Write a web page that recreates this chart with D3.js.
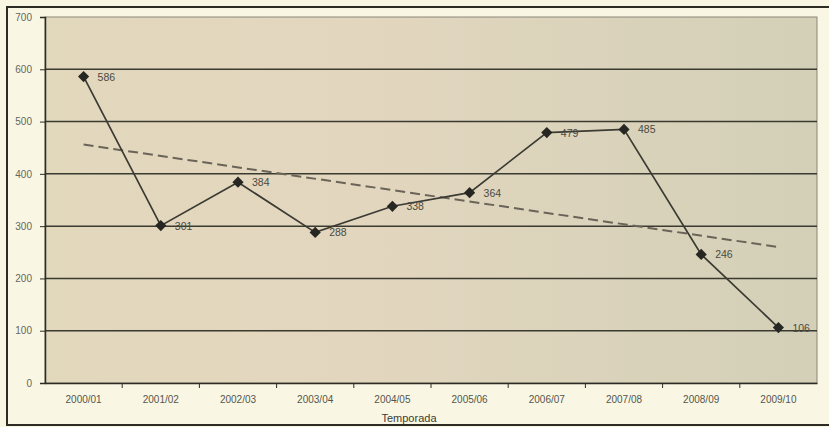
<!DOCTYPE html>
<html>
<head>
<meta charset="utf-8">
<script src="https://cdn.jsdelivr.net/npm/d3@7"></script>
<style>
  body { margin: 0; background: #f9f7e4; }
  svg { display: block; font-family: Arial, "Liberation Sans", sans-serif; }
</style>
</head>
<body>
<script>
// seasons on the x axis
var seasons = ['2000/01', '2001/02', '2002/03', '2003/04', '2004/05',
               '2005/06', '2006/07', '2007/08', '2008/09', '2009/10'];
// values per season
var values = [586, 301, 384, 288, 338, 364, 479, 485, 246, 106];
// y tick labels
var yTicks = [0, 100, 200, 300, 400, 500, 600, 700];
// dashed trend line, first and last season
var trendValues = [456, 260];

var width = 829, height = 427,
    margin = { top: 17, right: 12, bottom: 44, left: 45 };

var svg = d3.select('body').append('svg')
    .attr('width', width)
    .attr('height', height);

// outer frame (top, left, bottom only)
svg.append('path')
    .attr('d', 'M829,7 H7 V425 H829')
    .attr('fill', 'none')
    .attr('stroke', '#2c2c24')
    .attr('stroke-width', 2);

var x = d3.scaleBand()
    .domain(seasons)
    .range([margin.left, width - margin.right]);

var y = d3.scaleLinear()
    .domain([0, 700])
    .range([height - margin.bottom, margin.top]);

// plot background, warmer on the left, greyer on the right
var grad = svg.append('defs').append('linearGradient')
    .attr('id', 'bg')
    .attr('x1', 0).attr('x2', 1).attr('y1', 0).attr('y2', 0);
grad.append('stop').attr('offset', '0%').attr('stop-color', '#e2d8bc');
grad.append('stop').attr('offset', '40%').attr('stop-color', '#e3d6bf');
grad.append('stop').attr('offset', '100%').attr('stop-color', '#d3d0b7');

svg.append('rect')
    .attr('x', margin.left)
    .attr('y', margin.top)
    .attr('width', width - margin.right - margin.left)
    .attr('height', y(0) - margin.top)
    .attr('fill', 'url(#bg)')
    .attr('stroke', '#8a8676')
    .attr('stroke-width', 1);

// gridlines
svg.append('g')
  .selectAll('line')
  .data(yTicks.slice(1, -1))
  .join('line')
    .attr('x1', margin.left)
    .attr('x2', width - margin.right)
    .attr('y1', function(d) { return y(d); })
    .attr('y2', function(d) { return y(d); })
    .attr('stroke', '#3a3a30')
    .attr('stroke-width', 1.5);

// y axis
var yAxis = svg.append('g')
    .attr('transform', 'translate(' + margin.left + ',0)')
    .call(d3.axisLeft(y).tickValues(yTicks).tickSize(5).tickPadding(8));
yAxis.select('.domain').attr('stroke', '#2c2c24').attr('stroke-width', 1.5);
yAxis.selectAll('line').attr('stroke', '#2c2c24');
yAxis.selectAll('text').attr('fill', '#66665c').attr('font-size', 10);

// x axis, ticks sit between the categories
var xAxis = svg.append('g')
    .attr('transform', 'translate(0,' + y(0) + ')')
    .call(d3.axisBottom(x).tickSize(0).tickPadding(13));
xAxis.select('.domain').attr('stroke', '#2c2c24').attr('stroke-width', 1.5);
xAxis.selectAll('text').attr('fill', '#55554c').attr('font-size', 10);
xAxis.selectAll('.sep')
  .data(seasons.slice(1))
  .join('line')
    .attr('class', 'sep')
    .attr('x1', function(d) { return x(d); })
    .attr('x2', function(d) { return x(d); })
    .attr('y1', 0)
    .attr('y2', 5)
    .attr('stroke', '#2c2c24');

// axis title
svg.append('text')
    .attr('x', 409)
    .attr('y', 422)
    .attr('text-anchor', 'middle')
    .attr('font-size', 11)
    .attr('fill', '#3c3c34')
    .text('Temporada');

var cx = function(d) { return x(d) + x.bandwidth() / 2; };

// trend line
svg.append('line')
    .attr('x1', cx(seasons[0]))
    .attr('x2', cx(seasons[seasons.length - 1]))
    .attr('y1', y(trendValues[0]))
    .attr('y2', y(trendValues[1]))
    .attr('stroke', '#6a6458')
    .attr('stroke-width', 2)
    .attr('stroke-dasharray', '10,5');

// data line
var line = d3.line()
    .x(function(d, i) { return cx(seasons[i]); })
    .y(function(d) { return y(d); });

svg.append('path')
    .datum(values)
    .attr('d', line)
    .attr('fill', 'none')
    .attr('stroke', '#3b3b33')
    .attr('stroke-width', 1.7);

// diamond markers
svg.append('g')
  .selectAll('path')
  .data(values)
  .join('path')
    .attr('d', d3.symbol().type(d3.symbolDiamond2).size(80))
    .attr('transform', function(d, i) {
      return 'translate(' + cx(seasons[i]) + ',' + y(d) + ')';
    })
    .attr('fill', '#262622');

// value labels
svg.append('g')
  .selectAll('text')
  .data(values)
  .join('text')
    .attr('x', function(d, i) { return cx(seasons[i]) + 14; })
    .attr('y', function(d) { return y(d) + 4; })
    .attr('font-size', 10.5)
    .attr('fill', '#4a4a42')
    .text(function(d) { return d; });
</script>
</body>
</html>
